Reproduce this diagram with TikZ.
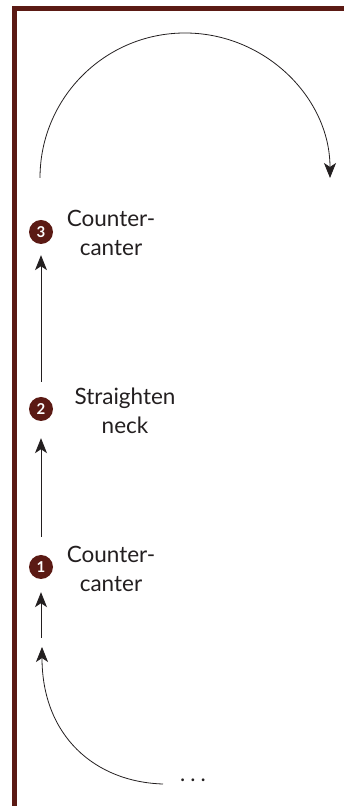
\documentclass[tikz,border=0pt]{standalone}
\usepackage{fontspec}
\setmainfont{Lato}
\usetikzlibrary{arrows.meta}
\definecolor{maroon}{HTML}{5B1A14}
\definecolor{ink}{HTML}{231F20}
\tikzset{
  numdot/.style={circle, fill=maroon, minimum size=24pt, inner sep=0pt, text=white, font=\fontsize{15}{15}\selectfont\bfseries},
  lbl/.style={align=center, text=ink, font=\fontsize{22.5}{29}\selectfont, inner sep=0pt},
  conn/.style={draw=ink, line width=0.8pt, -{Stealth[length=15pt, width=12pt, inset=4pt]}}
}
\begin{document}
\begin{tikzpicture}[x=1pt, y=1pt]
\useasboundingbox (0,0) rectangle (344,806);
% border
\fill[maroon] (12,795) rectangle (344,800);
\fill[maroon] (12,0) rectangle (17,800);
% step circles
\node[numdot] (c3) at (41,574) {3};
\node[numdot] (c2) at (41,397) {2};
\node[numdot] (c1) at (41,239) {1};
% labels
\node[lbl] (t3) at (111,573) {Counter-\\canter};
\node[lbl] (t2) at (125,395.5) {Straighten\\neck};
\node[lbl] (t1) at (111,237.5) {Counter-\\canter};
% connectors between steps
\draw[conn, shorten <=15pt, shorten >=11pt] (c2) -- (c3);
\draw[conn, shorten <=18pt, shorten >=17pt] (c1) -- (c2);
\coordinate (m) at (41,168);
\draw[conn, shorten >=13pt] (m) -- (c1);
% incoming curve
\node[text=ink, font=\fontsize{22}{22}\selectfont, inner sep=0pt] (dots) at (193,26) {.\hspace{5pt}.\hspace{5pt}.};
\coordinate (s) at (163,22);
\coordinate (e) at (42,159);
\draw[conn] (s) .. controls (95,24) and (42,70) .. (e);
% top arc
\coordinate (a0) at (40,628);
\draw[conn] (a0) arc[start angle=180, end angle=0, radius=145];
\end{tikzpicture}
\end{document}
